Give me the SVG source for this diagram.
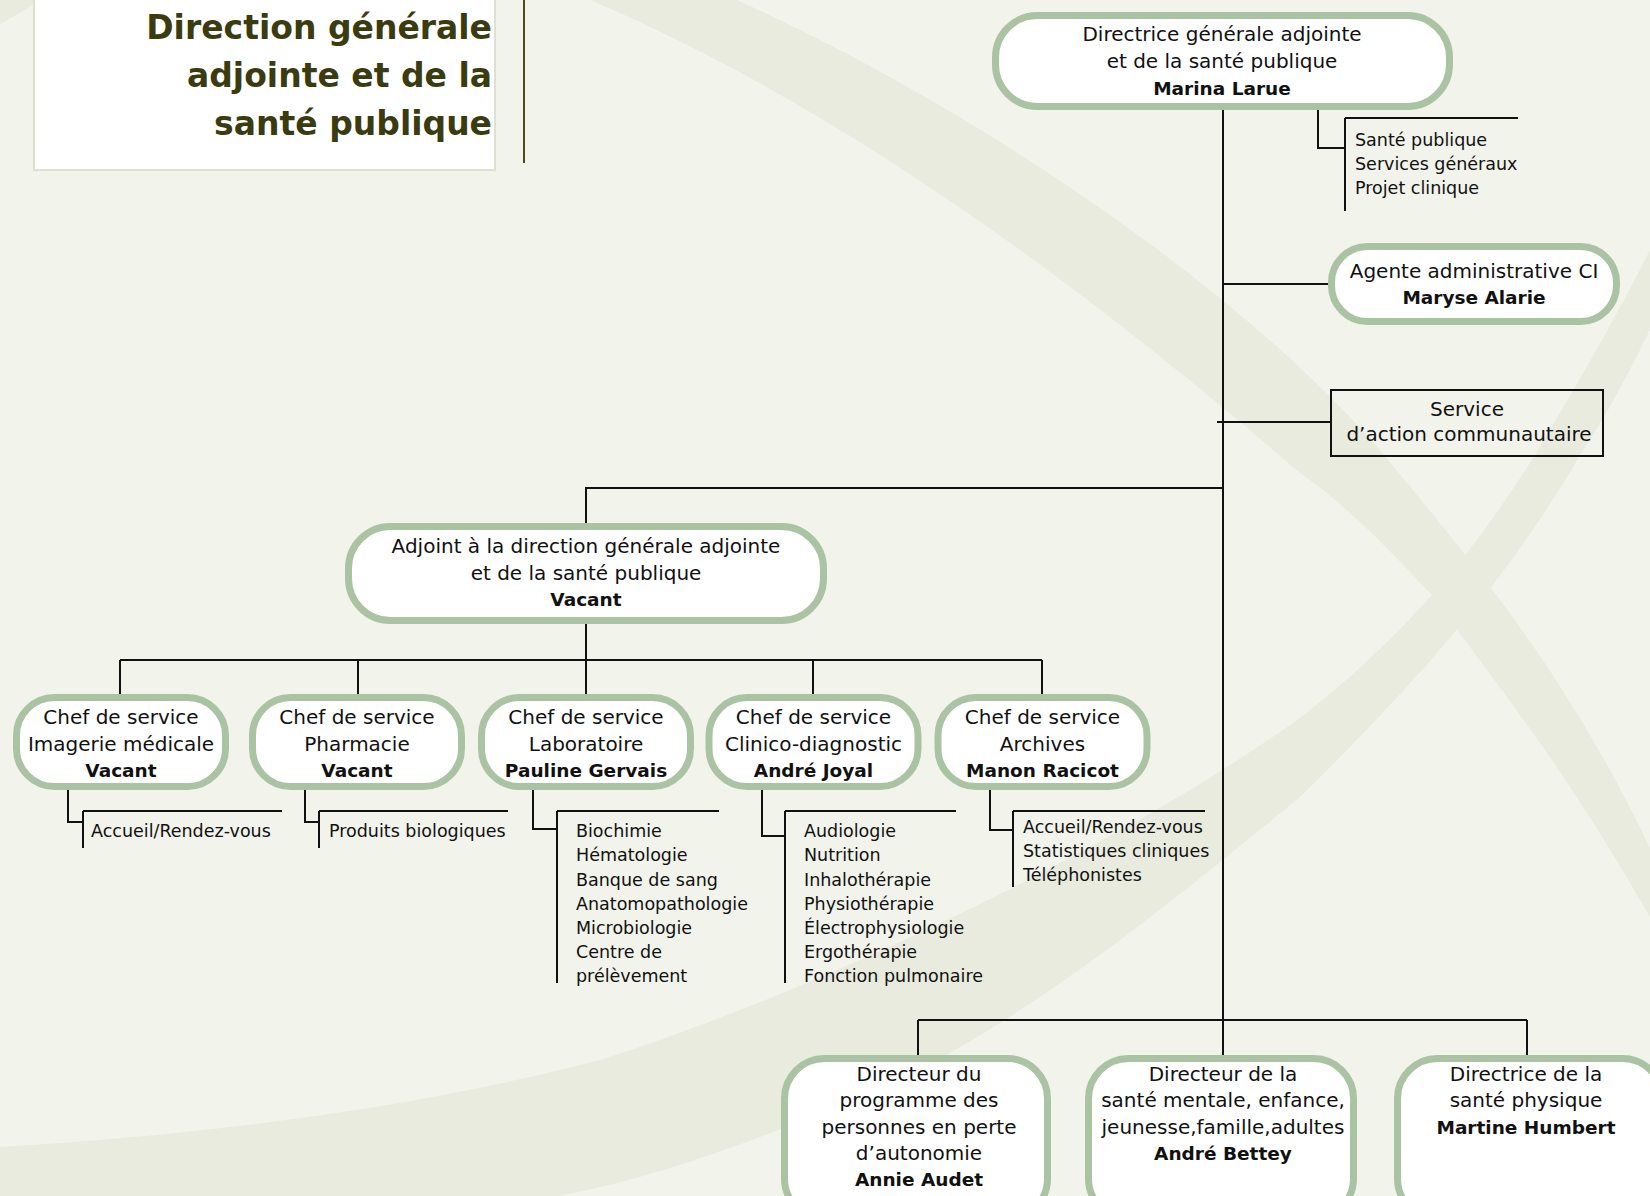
<svg xmlns="http://www.w3.org/2000/svg" width="1650" height="1196" viewBox="0 0 1650 1196">
<defs>
<style>
.bg{fill:#f2f3eb}
.band{fill:#e9ebdf}
.node{fill:#ffffff;stroke:#a9c3a3;stroke-width:7}
.t{font-family:"DejaVu Sans","Liberation Sans",sans-serif;font-size:20px;fill:#111111;text-anchor:middle}
.b{font-family:"DejaVu Sans","Liberation Sans",sans-serif;font-size:18.5px;font-weight:bold;fill:#111111;text-anchor:middle}
.s{font-family:"DejaVu Sans","Liberation Sans",sans-serif;font-size:17.5px;fill:#111111}
.ln{fill:none;stroke:#111111;stroke-width:2}
.title{font-family:"DejaVu Sans","Liberation Sans",sans-serif;font-size:33px;font-weight:bold;fill:#3b3b10;text-anchor:end}
</style>
</defs>
<rect class="bg" x="0" y="0" width="1650" height="1196"/>
<g id="background">
<path class="band" d="M590 0 L737 0 C1000 120 1250 300 1380 450 C1466 556 1560 660 1650 848 L1650 917 C1560 760 1500 690 1432 595 C1380 540 1340 500 1300 473 C1100 300 850 110 590 0 Z"/>
<path class="band" d="M0 1147 C200 1135 408 1110 600 1060 C800 997 1100 860 1300 718 C1400 640 1470 560 1538 450 C1580 380 1620 310 1650 250 L1650 330 C1630 370 1610 410 1583 450 C1520 560 1440 660 1300 797 C1150 920 980 1060 800 1122 C700 1160 640 1180 560 1196 L0 1196 Z"/>
<path class="band" d="M0 0 L40 0 C25 10 15 16 0 24 Z"/>
</g>
<g id="title">
<rect x="34" y="-2" width="461" height="172" fill="#ffffff" stroke="#dfe0d2" stroke-width="2"/>
<text class="title" x="492" y="39">Direction générale</text>
<text class="title" x="492" y="87">adjointe et de la</text>
<text class="title" x="492" y="135">santé publique</text>
<line x1="524" y1="0" x2="524" y2="163" stroke="#4a4a1e" stroke-width="2"/>
</g>
<g id="connectors">
<line class="ln" x1="1223" y1="108" x2="1223" y2="1058"/>
<line class="ln" x1="1223" y1="284" x2="1330" y2="284"/>
<line class="ln" x1="1217" y1="422" x2="1331" y2="422"/>
<polyline class="ln" points="1223,488 586,488 586,524"/>
<line class="ln" x1="586" y1="622" x2="586" y2="660"/>
<line class="ln" x1="120" y1="660" x2="1042" y2="660"/>
<line class="ln" x1="120" y1="660" x2="120" y2="695"/>
<line class="ln" x1="358" y1="660" x2="358" y2="695"/>
<line class="ln" x1="586" y1="660" x2="586" y2="695"/>
<line class="ln" x1="813" y1="660" x2="813" y2="695"/>
<line class="ln" x1="1042" y1="660" x2="1042" y2="695"/>
<line class="ln" x1="918" y1="1020" x2="1527" y2="1020"/>
<line class="ln" x1="918" y1="1020" x2="918" y2="1056"/>
<line class="ln" x1="1527" y1="1020" x2="1527" y2="1056"/>
<polyline class="ln" points="1318,108 1318,148 1345,148"/>
<line class="ln" x1="1345" y1="118" x2="1345" y2="211"/>
<line class="ln" x1="1345" y1="118" x2="1518" y2="118"/>
<polyline class="ln" points="68,788 68,822 83,822"/>
<line class="ln" x1="83" y1="811" x2="83" y2="848"/>
<line class="ln" x1="83" y1="811" x2="282" y2="811"/>
<polyline class="ln" points="305,788 305,822 319,822"/>
<line class="ln" x1="319" y1="811" x2="319" y2="848"/>
<line class="ln" x1="319" y1="811" x2="508" y2="811"/>
<polyline class="ln" points="533,788 533,829 557,829"/>
<line class="ln" x1="557" y1="811" x2="557" y2="983"/>
<line class="ln" x1="557" y1="811" x2="719" y2="811"/>
<polyline class="ln" points="762,788 762,836 785,836"/>
<line class="ln" x1="785" y1="811" x2="785" y2="983"/>
<line class="ln" x1="785" y1="811" x2="956" y2="811"/>
<polyline class="ln" points="990,788 990,830 1013,830"/>
<line class="ln" x1="1013" y1="811" x2="1013" y2="887"/>
<line class="ln" x1="1013" y1="811" x2="1205" y2="811"/>
</g>
<g id="n-directrice">
<rect class="node" x="995.5" y="15.5" width="454" height="91" rx="42"/>
<text class="t" x="1222" y="41">Directrice générale adjointe</text>
<text class="t" x="1222" y="68">et de la santé publique</text>
<text class="b" x="1222" y="95">Marina Larue</text>
</g>
<g id="n-directrice-list">
<text class="s" x="1355" y="146">Santé publique</text>
<text class="s" x="1355" y="170">Services généraux</text>
<text class="s" x="1355" y="194">Projet clinique</text>
</g>
<g id="n-agente">
<rect class="node" x="1331.5" y="246.5" width="285" height="75" rx="36"/>
<text class="t" x="1474" y="278">Agente administrative CI</text>
<text class="b" x="1474" y="304">Maryse Alarie</text>
</g>
<g id="n-service">
<rect x="1331" y="390" width="272" height="66" fill="none" stroke="#111111" stroke-width="2"/>
<text class="t" x="1467" y="416">Service</text>
<text class="t" x="1469" y="441">d’action communautaire</text>
</g>
<g id="n-adjoint">
<rect class="node" x="348.5" y="526.5" width="475" height="94" rx="42"/>
<text class="t" x="586" y="553">Adjoint à la direction générale adjointe</text>
<text class="t" x="586" y="580">et de la santé publique</text>
<text class="b" x="586" y="606">Vacant</text>
</g>
<g id="n-imagerie">
<rect class="node" x="16.5" y="697.5" width="209" height="89" rx="38"/>
<text class="t" x="121" y="724">Chef de service</text>
<text class="t" x="121" y="751">Imagerie médicale</text>
<text class="b" x="121" y="777">Vacant</text>
<text class="s" x="91" y="837">Accueil/Rendez-vous</text>
</g>
<g id="n-pharmacie">
<rect class="node" x="252.5" y="697.5" width="209" height="89" rx="38"/>
<text class="t" x="357" y="724">Chef de service</text>
<text class="t" x="357" y="751">Pharmacie</text>
<text class="b" x="357" y="777">Vacant</text>
<text class="s" x="329" y="837">Produits biologiques</text>
</g>
<g id="n-laboratoire">
<rect class="node" x="481.5" y="697.5" width="209" height="89" rx="38"/>
<text class="t" x="586" y="724">Chef de service</text>
<text class="t" x="586" y="751">Laboratoire</text>
<text class="b" x="586" y="777">Pauline Gervais</text>
<text class="s" x="576" y="837">Biochimie</text>
<text class="s" x="576" y="861">Hématologie</text>
<text class="s" x="576" y="886">Banque de sang</text>
<text class="s" x="576" y="910">Anatomopathologie</text>
<text class="s" x="576" y="934">Microbiologie</text>
<text class="s" x="576" y="958">Centre de</text>
<text class="s" x="576" y="982">prélèvement</text>
</g>
<g id="n-clinico">
<rect class="node" x="709" y="697.5" width="209" height="89" rx="38"/>
<text class="t" x="813.5" y="724">Chef de service</text>
<text class="t" x="813.5" y="751">Clinico-diagnostic</text>
<text class="b" x="813.5" y="777">André Joyal</text>
<text class="s" x="804" y="837">Audiologie</text>
<text class="s" x="804" y="861">Nutrition</text>
<text class="s" x="804" y="886">Inhalothérapie</text>
<text class="s" x="804" y="910">Physiothérapie</text>
<text class="s" x="804" y="934">Électrophysiologie</text>
<text class="s" x="804" y="958">Ergothérapie</text>
<text class="s" x="804" y="982">Fonction pulmonaire</text>
</g>
<g id="n-archives">
<rect class="node" x="938" y="697.5" width="209" height="89" rx="38"/>
<text class="t" x="1042.5" y="724">Chef de service</text>
<text class="t" x="1042.5" y="751">Archives</text>
<text class="b" x="1042.5" y="777">Manon Racicot</text>
<text class="s" x="1023" y="833">Accueil/Rendez-vous</text>
<text class="s" x="1023" y="857">Statistiques cliniques</text>
<text class="s" x="1023" y="881">Téléphonistes</text>
</g>
<g id="n-autonomie">
<rect class="node" x="784.5" y="1058.5" width="263" height="160" rx="40"/>
<text class="t" x="919" y="1081">Directeur du</text>
<text class="t" x="919" y="1107">programme des</text>
<text class="t" x="919" y="1134">personnes en perte</text>
<text class="t" x="919" y="1160">d’autonomie</text>
<text class="b" x="919" y="1186">Annie Audet</text>
</g>
<g id="n-sante-mentale">
<rect class="node" x="1088.5" y="1058.5" width="265" height="160" rx="40"/>
<text class="t" x="1223" y="1081">Directeur de la</text>
<text class="t" x="1223" y="1107">santé mentale, enfance,</text>
<text class="t" x="1223" y="1134">jeunesse,famille,adultes</text>
<text class="b" x="1223" y="1160">André Bettey</text>
</g>
<g id="n-sante-physique">
<rect class="node" x="1397.5" y="1058.5" width="265" height="160" rx="40"/>
<text class="t" x="1526" y="1081">Directrice de la</text>
<text class="t" x="1526" y="1107">santé physique</text>
<text class="b" x="1526" y="1134">Martine Humbert</text>
</g>
</svg>
